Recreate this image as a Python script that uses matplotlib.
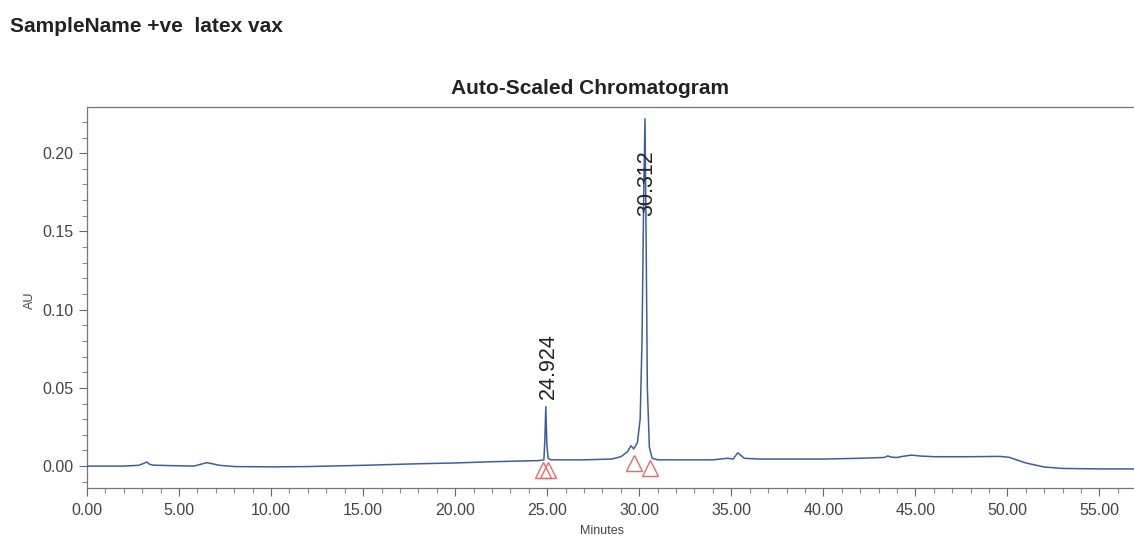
import matplotlib
matplotlib.use("Agg")
import matplotlib.pyplot as plt
from matplotlib.ticker import MultipleLocator, FormatStrFormatter

# ---- data ----
time_min = [0.0, 1.0, 2.0, 2.8, 3.1, 3.25, 3.4, 3.6, 4.5, 5.8, 6.2, 6.5, 6.8, 7.2, 8.0,
            10.0, 12.0, 15.0, 18.0, 20.0, 22.0, 24.5, 24.82, 24.87, 24.924, 24.98, 25.05,
            25.2, 27.0, 28.5, 29.0, 29.35, 29.55, 29.7, 29.9, 30.05, 30.15, 30.25, 30.312,
            30.37, 30.44, 30.55, 30.7, 31.0, 34.0, 34.8, 35.1, 35.35, 35.7, 36.5, 40.0,
            42.0, 43.3, 43.5, 43.7, 44.0, 44.3, 44.8, 45.3, 46.0, 48.0, 49.6, 50.1, 51.0,
            52.0, 53.0, 55.0, 57.0]
au_values = [0.0, 0.0, 0.0, 0.0005, 0.0018, 0.0026, 0.0012, 0.0006, 0.0003, 0.0, 0.0012,
             0.0022, 0.0015, 0.0005, -0.0003, -0.0005, -0.0003, 0.0005, 0.0015, 0.002,
             0.0028, 0.0035, 0.004, 0.016, 0.038, 0.014, 0.005, 0.004, 0.004, 0.0045,
             0.006, 0.009, 0.013, 0.011, 0.015, 0.03, 0.08, 0.18, 0.222, 0.15, 0.05, 0.012,
             0.005, 0.004, 0.004, 0.005, 0.0045, 0.0085, 0.005, 0.0045, 0.0045, 0.005,
             0.0055, 0.0065, 0.0057, 0.0055, 0.0062, 0.007, 0.0064, 0.006, 0.006, 0.0062,
             0.0056, 0.002, -0.0006, -0.0015, -0.0018, -0.0018]

peak_times = [24.924, 30.312]
peak_labels = ["24.924", "30.312"]
peak_label_y = [0.043, 0.160]

marker_times = [24.78, 25.02, 29.72, 30.6]
marker_au = [-0.0025, -0.0025, 0.0018, -0.0015]

x_ticks = [0, 5, 10, 15, 20, 25, 30, 35, 40, 45, 50, 55]
y_ticks = [0.00, 0.05, 0.10, 0.15, 0.20]

# ---- figure ----
plt.rcParams['font.family'] = ['Liberation Sans', 'DejaVu Sans']
fig = plt.figure(figsize=(11.34, 5.38), dpi=100)
ax = fig.add_axes([87 / 1134, 1 - 488 / 538, 1 - 87 / 1134 + 0.002, (488 - 107) / 538])

ax.plot(time_min, au_values, color='#3d5d9e', lw=1.1, zorder=3)
ax.plot(marker_times, marker_au, linestyle='none', marker='^', markersize=12,
        markerfacecolor='none', markeredgecolor='#e86a6a', markeredgewidth=1.0, zorder=4)

for t, lab, ly in zip(peak_times, peak_labels, peak_label_y):
    ax.text(t + 0.12, ly, lab, rotation=90, ha='center', va='bottom',
            fontsize=15.5, color='#222222', zorder=5)

ax.set_xlim(0, 57.0)
ax.set_ylim(-0.0140, 0.2295)
ax.set_xticks(x_ticks)
ax.set_yticks(y_ticks)
ax.xaxis.set_major_formatter(FormatStrFormatter('%.2f'))
ax.yaxis.set_major_formatter(FormatStrFormatter('%.2f'))
ax.xaxis.set_minor_locator(MultipleLocator(1))
ax.yaxis.set_minor_locator(MultipleLocator(0.01))
ax.tick_params(axis='both', which='major', length=6, width=0.8, color='#666666',
               labelsize=11.5, labelcolor='#444444', direction='out')
ax.tick_params(axis='both', which='minor', length=3.5, width=0.8, color='#888888',
               direction='out')
ax.tick_params(axis='x', pad=5)
for side in ['left', 'bottom', 'top']:
    ax.spines[side].set_color('#777777')
    ax.spines[side].set_linewidth(0.9)
ax.spines['right'].set_visible(False)

fig.text(30 / 1134, 1 - 300 / 538, 'AU', rotation=90, ha='center', va='center',
         fontsize=9, color='#444444')
fig.text(602 / 1134, 1 - 531 / 538, 'Minutes', ha='center', va='center',
         fontsize=9, color='#444444')
fig.text(590 / 1134, 1 - 88 / 538, 'Auto-Scaled Chromatogram', ha='center', va='center',
         fontsize=15, fontweight='bold', color='#222222')
fig.text(10 / 1134, 1 - 27 / 538, 'SampleName +ve  latex vax', ha='left', va='center',
         fontsize=15, fontweight='bold', color='#222222')

fig.savefig('out.png', dpi=100)
